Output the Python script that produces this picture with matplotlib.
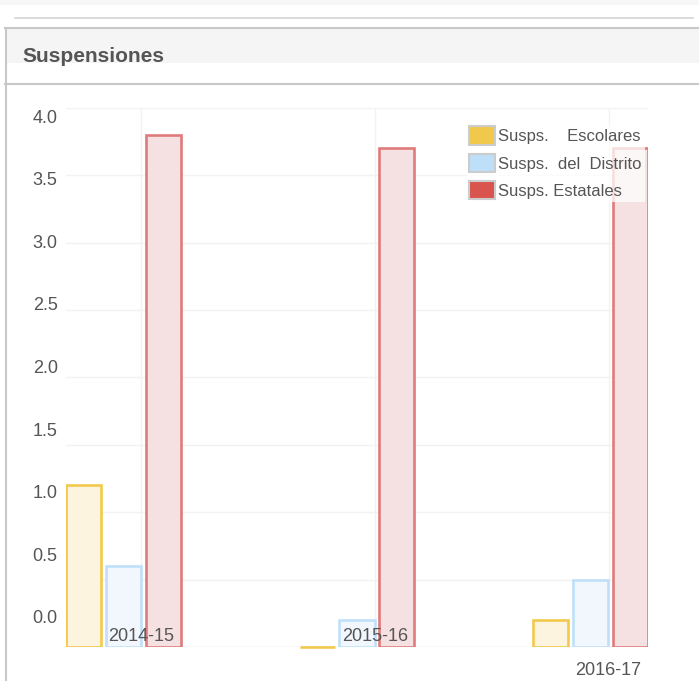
import numpy as np
import matplotlib
matplotlib.use("Agg")
from matplotlib import pyplot as plt
from matplotlib.patches import Rectangle, Patch
from matplotlib.lines import Line2D
from matplotlib.transforms import blended_transform_factory

plt.rcParams['font.family'] = ['Liberation Sans', 'DejaVu Sans']

# data
years = ['2014-15', '2015-16', '2016-17']
escolares = [1.2, 0.0, 0.2]
distrito = [0.6, 0.2, 0.5]
estatales = [3.8, 3.7, 3.7]
series_names = ['Susps.    Escolares', 'Susps.  del  Distrito', 'Susps. Estatales']
y_ticks = [0.0, 0.5, 1.0, 1.5, 2.0, 2.5, 3.0, 3.5, 4.0]

edge_cols = ['#f2c94c', '#bfe0f8', '#e07b7b']
fill_cols = ['#fcf4df', '#f1f7fd', '#f6e1e2']
swatch_cols = ['#f0c94c', '#bde0f8', '#d9534f']

W, H = 699, 681
fig = plt.figure(figsize=(W / 100, H / 100), dpi=100)

def fx(px):
    return px / W

def fy(py):
    return (H - py) / H

# panel header / frame
fig.patches.append(Rectangle((fx(0), fy(5)), 1, 5 / H, transform=fig.transFigure,
                             color='#f7f7f7', lw=0))
fig.patches.append(Rectangle((fx(5), fy(63)), 1, 35 / H, transform=fig.transFigure,
                             color='#f5f5f5', lw=0))
fig.lines.append(Line2D([fx(15), fx(693)], [fy(17.5), fy(17.5)], transform=fig.transFigure,
                        color='#d4d4d4', lw=1.2))
fig.lines.append(Line2D([fx(5), 1], [fy(28), fy(28)], transform=fig.transFigure,
                        color='#c8c8c8', lw=1.5))
fig.lines.append(Line2D([fx(5), 1], [fy(83.5), fy(83.5)], transform=fig.transFigure,
                        color='#c8c8c8', lw=1.5))
fig.lines.append(Line2D([fx(5.5), fx(5.5)], [fy(28), 0], transform=fig.transFigure,
                        color='#c8c8c8', lw=1.5))
fig.text(fx(22), fy(56), 'Suspensiones', fontsize=15, fontweight='bold',
         color='#555555', va='center', ha='left')

# main plot
left, right, top, bottom = 66, 648, 108, 647
rect = [fx(left), fy(bottom), (right - left) / W, (bottom - top) / H]
ax = fig.add_axes(rect)
x = np.arange(len(years))
bw = 0.15
step = 0.171
for k, vals in enumerate([escolares, distrito, estatales]):
    bars = ax.bar(x + (k - 1) * step, vals, width=bw, color=fill_cols[k],
                  edgecolor=edge_cols[k], linewidth=1.9, zorder=2)
    for b in bars:
        if b.get_height() == 0:
            b.set_clip_on(False)

ax.set_xlim(-0.246, 2.246)
ax.set_ylim(0, 4)
ax.set_yticks(y_ticks)
ax.set_yticklabels([])
tick_off = 0.077
ax.set_xticks(x + tick_off)
ax.set_xticklabels([])
ax.tick_params(length=0)
ax.grid(True, color='#f2f2f2', lw=1, zorder=0)
ax.set_axisbelow(True)
for s in ax.spines.values():
    s.set_visible(False)
ax.axhline(0, color='#eeeeee', lw=1, zorder=1)

# category labels (drawn offset, as in the source widget)
label_y = [0.02, 0.02, -0.043]
tr = blended_transform_factory(ax.transData, ax.transAxes)
for i, yr in enumerate(years):
    ax.text(i + tick_off, label_y[i], yr, transform=tr, ha='center', va='center',
            fontsize=13, color='#555555', zorder=5)

# value labels on a shifted scale
lab = fig.add_axes(rect, frameon=False)
lab.patch.set_visible(False)
lab.set_ylim(-0.24, 4.064)
lab.set_yticks(y_ticks)
lab.set_yticklabels(['%.1f' % v for v in y_ticks], fontsize=13, color='#555555')
lab.set_xticks([])
lab.tick_params(length=0, pad=6)

# legend
handles = [Patch(facecolor=swatch_cols[k], edgecolor='#cccccc', linewidth=1.5)
           for k in range(3)]
leg = ax.legend(handles, series_names, loc='upper left',
                bbox_to_anchor=(fx(466), fy(124)), bbox_transform=fig.transFigure,
                fontsize=12, handlelength=1.6, handleheight=1.3, handletextpad=0.2,
                labelspacing=0.55, borderpad=0.15, borderaxespad=0,
                frameon=True, fancybox=False)
leg.get_frame().set_facecolor('white')
leg.get_frame().set_alpha(0.75)
leg.get_frame().set_edgecolor('none')
for t in leg.get_texts():
    t.set_color('#555555')

fig.savefig('out.png', dpi=100)
